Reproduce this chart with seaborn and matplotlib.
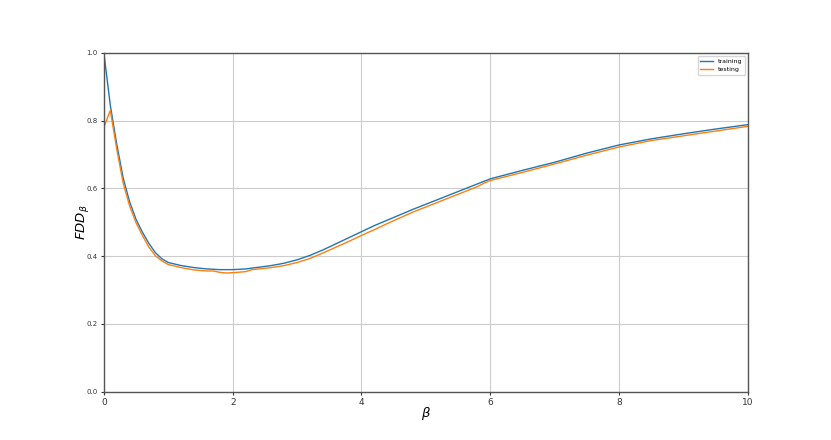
import numpy as np
import pandas as pd
import matplotlib
matplotlib.use("Agg")
import matplotlib.pyplot as plt
import seaborn as sns

beta_train = [0.0, 0.1, 0.2, 0.3, 0.4, 0.5, 0.6, 0.7, 0.8, 0.9, 1.0, 1.2, 1.4, 1.6, 1.8, 2.0,
              2.2, 2.4, 2.6, 2.8, 3.0, 3.2, 3.4, 3.6, 3.8, 4.0, 4.2, 4.4, 4.6, 4.8, 5.0,
              5.2, 5.4, 5.6, 5.8, 6.0, 6.5, 7.0, 7.5, 8.0, 8.5, 9.0, 9.5, 10.0]
fdd_train = [1.0, 0.845, 0.73, 0.63, 0.56, 0.508, 0.47, 0.437, 0.41, 0.392, 0.381, 0.372, 0.366,
             0.362, 0.36, 0.36, 0.362, 0.367, 0.372, 0.379, 0.389, 0.402, 0.418, 0.436, 0.454,
             0.472, 0.49, 0.506, 0.522, 0.538, 0.553, 0.568, 0.583, 0.598, 0.613, 0.628,
             0.653, 0.677, 0.704, 0.728, 0.746, 0.761, 0.775, 0.788]

beta_test = [0.0, 0.1, 0.2, 0.3, 0.4, 0.5, 0.6, 0.7, 0.8, 0.9, 1.0, 1.2, 1.4, 1.6, 1.7, 1.8,
             1.9, 2.0, 2.2, 2.3, 2.4, 2.6, 2.8, 3.0, 3.2, 3.4, 3.6, 3.8, 4.0, 4.2, 4.4, 4.6,
             4.8, 5.0, 5.2, 5.4, 5.6, 5.8, 5.9, 6.0, 6.5, 7.0, 7.5, 8.0, 8.5, 9.0, 9.5, 10.0]
fdd_test = [0.78, 0.83, 0.715, 0.615, 0.548, 0.498, 0.46, 0.426, 0.401, 0.386, 0.375, 0.366,
            0.359, 0.356, 0.356, 0.352, 0.35, 0.351, 0.354, 0.36, 0.362, 0.366, 0.372, 0.381,
            0.393, 0.409, 0.426, 0.443, 0.461, 0.478, 0.496, 0.513, 0.53, 0.545, 0.56, 0.575,
            0.59, 0.605, 0.615, 0.623, 0.647, 0.672, 0.698, 0.722, 0.741, 0.755, 0.769, 0.783]

df = pd.concat([
    pd.DataFrame({"beta": beta_train, "fdd": fdd_train, "set": "training"}),
    pd.DataFrame({"beta": beta_test, "fdd": fdd_test, "set": "testing"}),
], ignore_index=True)

fig, ax = plt.subplots(figsize=(8.31, 4.4), dpi=100)
fig.subplots_adjust(left=0.125, right=0.9, top=0.88, bottom=0.11)

sns.lineplot(data=df, x="beta", y="fdd", hue="set", sort=False,
             palette={"training": "#1f77b4", "testing": "#ff7f0e"},
             linewidth=1.0, ax=ax)

ax.set_xlim(0, 10)
ax.set_ylim(0, 1.0)
ax.set_xticks([0, 2, 4, 6, 8, 10])
ax.set_yticks([0.0, 0.2, 0.4, 0.6, 0.8, 1.0])
ax.grid(True, color="#cccccc", linewidth=0.8)
ax.set_axisbelow(True)
for s in ax.spines.values():
    s.set_color("#555555")
    s.set_linewidth(1.0)
ax.tick_params(axis="x", labelsize=6.5, length=2.5, pad=2, colors="#333333")
ax.tick_params(axis="y", labelsize=5, length=2.5, pad=2, colors="#333333")
ax.set_xlabel(r"$\beta$", fontsize=9.5, labelpad=-1)
ax.set_ylabel(r"$FDD_\beta$", fontsize=9.5, labelpad=-3)
leg = ax.legend(loc="upper right", fontsize=4.5, frameon=True, title=None)

fig.savefig("out.png", dpi=100)
